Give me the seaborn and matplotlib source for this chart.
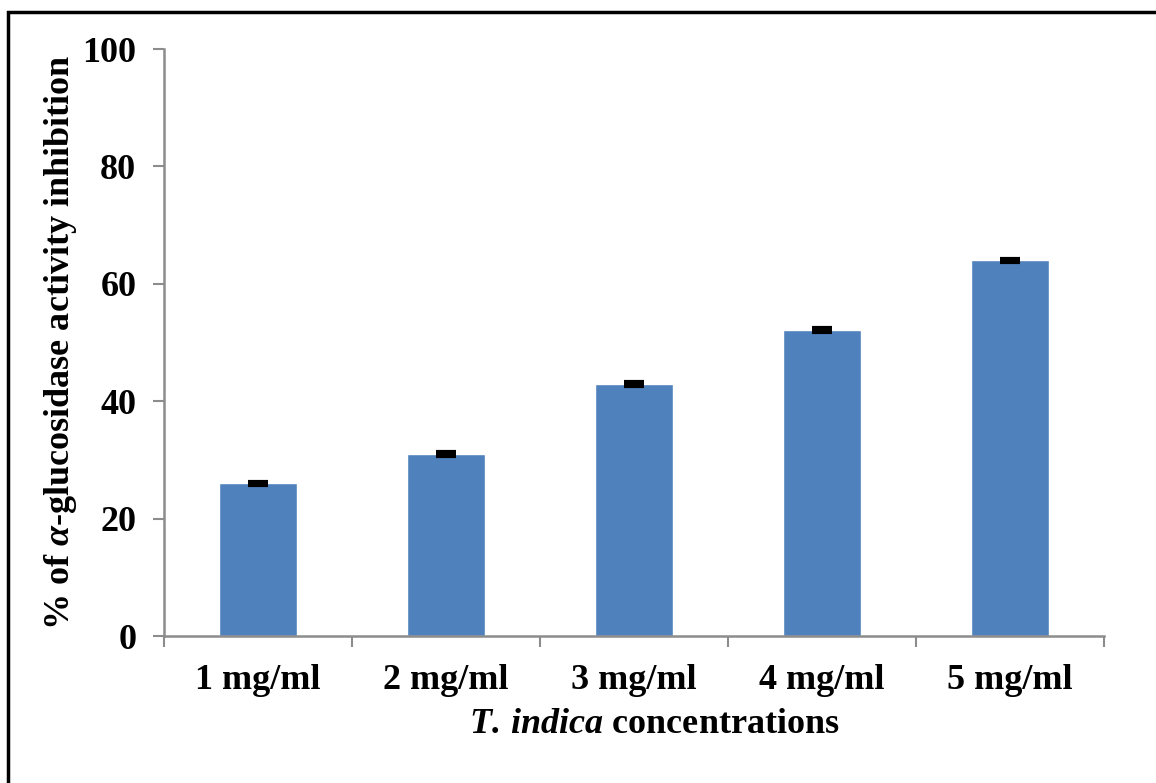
"""
Ингибирование альфа-глюкозидазы экстрактом T. indica
"""

import matplotlib.pyplot as plt
import matplotlib.patches as mpatches
import numpy as np
import pandas as pd
import seaborn as sns

CONCENTRATIONS = ["1 mg/ml", "2 mg/ml", "3 mg/ml", "4 mg/ml", "5 mg/ml"]
INHIBITION = [26.0, 31.0, 42.9, 52.1, 64.0]
INHIBITION_SD = [0.3, 0.3, 0.3, 0.3, 0.3]
Y_TICKS = [0, 20, 40, 60, 80, 100]

BAR_COLOR = "#4F81BD"
AXIS_COLOR = "#8c8c8c"
FONT_SIZE = 26


def main() -> None:
    sns.set_theme(style="white")
    plt.rcParams["font.family"] = ["Liberation Serif", "DejaVu Serif"]
    plt.rcParams["font.weight"] = "bold"
    plt.rcParams["text.color"] = "black"
    plt.rcParams["axes.labelcolor"] = "black"
    plt.rcParams["xtick.labelcolor"] = "black"
    plt.rcParams["ytick.labelcolor"] = "black"
    plt.rcParams["mathtext.fontset"] = "custom"
    plt.rcParams["mathtext.rm"] = "Liberation Serif:bold"
    plt.rcParams["mathtext.bfit"] = "Liberation Serif:italic:bold"
    plt.rcParams["mathtext.it"] = "Liberation Serif:italic:bold"

    df = pd.DataFrame({"conc": CONCENTRATIONS, "value": INHIBITION})

    fig = plt.figure(figsize=(11.56, 7.83), dpi=100)
    ax = fig.add_axes([0.1419, 0.1877, 0.955 - 0.1419, 0.9374 - 0.1877])

    sns.barplot(data=df, x="conc", y="value", color=BAR_COLOR, width=0.41,
                saturation=1, errorbar=None, ax=ax)
    ax.errorbar(np.arange(len(INHIBITION)), INHIBITION, yerr=INHIBITION_SD,
                fmt="none", ecolor="black", elinewidth=1.5, capsize=7, capthick=3)

    ax.set_xlim(-0.5, len(CONCENTRATIONS) - 0.5)
    ax.set_ylim(0, 100)
    ax.set_yticks(Y_TICKS)
    ax.set_xticks(np.arange(-0.5, len(CONCENTRATIONS)), minor=True)

    for side in ("top", "right"):
        ax.spines[side].set_visible(False)
    for side in ("left", "bottom"):
        ax.spines[side].set_color(AXIS_COLOR)
        ax.spines[side].set_linewidth(1.8)

    ax.tick_params(axis="y", which="major", direction="out", length=8,
                   width=1.5, color=AXIS_COLOR, pad=12, labelsize=FONT_SIZE,
                   left=True)
    ax.tick_params(axis="x", which="major", length=0, pad=20,
                   labelsize=FONT_SIZE)
    ax.tick_params(axis="x", which="minor", direction="out", length=8,
                   width=1.5, color=AXIS_COLOR, bottom=True)
    for lbl in ax.get_xticklabels() + ax.get_yticklabels():
        lbl.set_fontweight("bold")

    ax.set_xlabel(r"$\mathbfit{T.\,indica}$ concentrations",
                  fontsize=FONT_SIZE, fontweight="bold")
    ax.xaxis.set_label_coords(0.522, -0.122)
    ax.set_ylabel(r"% of $\mathbfit{\alpha}$-glucosidase activity inhibition",
                  fontsize=FONT_SIZE, fontweight="bold")
    ax.yaxis.set_label_coords(-0.091, 0.5)

    # рамка вокруг рисунка, обрезанная справа и снизу
    frame = mpatches.Rectangle((8 / 1156, -0.1), 1.2, 1.1 - 12 / 783,
                               transform=fig.transFigure, fill=False,
                               edgecolor="black", linewidth=2.5)
    fig.patches.append(frame)

    fig.savefig("out.png", dpi=100)


if __name__ == "__main__":
    main()
